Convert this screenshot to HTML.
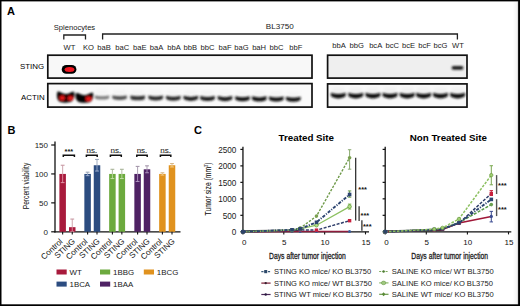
<!DOCTYPE html>
<html><head><meta charset="utf-8"><style>
html,body{margin:0;padding:0;background:#fff;width:520px;height:306px;overflow:hidden}
svg{display:block;font-family:"Liberation Sans", sans-serif}
</style></head><body>
<svg width="520" height="306" viewBox="0 0 520 306" font-family='"Liberation Sans", sans-serif'><rect x="0" y="0" width="520" height="306" fill="#000"/>
<rect x="1.5" y="1.4" width="516.6" height="302.9" fill="#fff"/>
<defs><linearGradient id="rg" x1="0" x2="1" y1="0" y2="0"><stop offset="0" stop-color="#000" stop-opacity="0"/><stop offset="0.7" stop-color="#000" stop-opacity="0.04"/><stop offset="1" stop-color="#000" stop-opacity="0.18"/></linearGradient></defs>
<rect x="512.6" y="1.4" width="5.5" height="302.9" fill="url(#rg)"/>
<text x="7.0" y="15.4" font-size="11" text-anchor="start" font-weight="bold" fill="#000" >A</text>
<text x="53.8" y="29.8" font-size="7.6" text-anchor="start" font-weight="normal" fill="#222" >Splenocytes</text>
<text x="265.8" y="29.2" font-size="8.1" text-anchor="start" font-weight="normal" fill="#222" >BL3750</text>
<path d="M63.8 39.6 V35 H85.5 V39.6" fill="none" stroke="#222" stroke-width="1.3"/>
<path d="M102.6 39.6 V34 H457.4 V39.6" fill="none" stroke="#222" stroke-width="1.3"/>
<text x="69.4" y="49.6" font-size="7.6" text-anchor="middle" font-weight="normal" fill="#222" >WT</text>
<text x="88.4" y="49.6" font-size="7.6" text-anchor="middle" font-weight="normal" fill="#222" >KO</text>
<text x="104.1" y="49.6" font-size="7.6" text-anchor="middle" font-weight="normal" fill="#222" >baB</text>
<text x="122.2" y="49.6" font-size="7.6" text-anchor="middle" font-weight="normal" fill="#222" >baC</text>
<text x="139.8" y="49.6" font-size="7.6" text-anchor="middle" font-weight="normal" fill="#222" >baE</text>
<text x="156.5" y="49.6" font-size="7.6" text-anchor="middle" font-weight="normal" fill="#222" >baA</text>
<text x="174" y="49.6" font-size="7.6" text-anchor="middle" font-weight="normal" fill="#222" >bbA</text>
<text x="190.3" y="49.6" font-size="7.6" text-anchor="middle" font-weight="normal" fill="#222" >bbB</text>
<text x="207.5" y="49.6" font-size="7.6" text-anchor="middle" font-weight="normal" fill="#222" >bbC</text>
<text x="225" y="49.6" font-size="7.6" text-anchor="middle" font-weight="normal" fill="#222" >baF</text>
<text x="241.5" y="49.6" font-size="7.6" text-anchor="middle" font-weight="normal" fill="#222" >baG</text>
<text x="259.1" y="49.6" font-size="7.6" text-anchor="middle" font-weight="normal" fill="#222" >baH</text>
<text x="276.5" y="49.6" font-size="7.6" text-anchor="middle" font-weight="normal" fill="#222" >bbC</text>
<text x="295.9" y="49.6" font-size="7.6" text-anchor="middle" font-weight="normal" fill="#222" >bbF</text>
<text x="339.1" y="48.1" font-size="7.6" text-anchor="middle" font-weight="normal" fill="#222" >bbA</text>
<text x="356.7" y="48.1" font-size="7.6" text-anchor="middle" font-weight="normal" fill="#222" >bbG</text>
<text x="375.7" y="48.1" font-size="7.6" text-anchor="middle" font-weight="normal" fill="#222" >bcA</text>
<text x="392.2" y="48.1" font-size="7.6" text-anchor="middle" font-weight="normal" fill="#222" >bcC</text>
<text x="408.5" y="48.1" font-size="7.6" text-anchor="middle" font-weight="normal" fill="#222" >bcE</text>
<text x="424.5" y="48.1" font-size="7.6" text-anchor="middle" font-weight="normal" fill="#222" >bcF</text>
<text x="440.5" y="48.1" font-size="7.6" text-anchor="middle" font-weight="normal" fill="#222" >bcG</text>
<text x="458" y="48.1" font-size="7.6" text-anchor="middle" font-weight="normal" fill="#222" >WT</text>
<text x="20" y="68.9" font-size="7.9" text-anchor="start" font-weight="normal" fill="#000" >STING</text>
<text x="21" y="100" font-size="7.9" text-anchor="start" font-weight="normal" fill="#000" >ACTIN</text>
<defs><filter id="bl" x="-50%" y="-80%" width="200%" height="260%"><feGaussianBlur stdDeviation="0.85"/></filter><filter id="bl2" x="-50%" y="-50%" width="200%" height="200%"><feGaussianBlur stdDeviation="0.55"/></filter><filter id="bl3" x="-50%" y="-100%" width="200%" height="300%"><feGaussianBlur stdDeviation="1.6"/></filter><filter id="nz" x="0" y="0" width="100%" height="100%"><feTurbulence type="fractalNoise" baseFrequency="0.9" numOctaves="1" seed="3"/><feColorMatrix values="0 0 0 0 0  0 0 0 0 0  0 0 0 0 0  0 0 0 -0.9 0.42"/><feComposite in2="SourceGraphic" operator="in"/></filter></defs>
<rect x="47.8" y="55.2" width="264.2" height="22.89999999999999" fill="#f8f8f8"/>
<rect x="47.8" y="83.6" width="264.2" height="23.5" fill="#fafafa"/>
<rect x="327.6" y="55.2" width="139.39999999999998" height="22.89999999999999" fill="#efefef"/>
<rect x="327.6" y="83.9" width="139.39999999999998" height="23.19999999999999" fill="#f8f8f8"/>
<g filter="url(#bl2)"><rect x="61.7" y="65.1" width="14.7" height="8.6" rx="4.6" ry="4.3" fill="#000"/><ellipse cx="69.5" cy="69.5" rx="4.9" ry="2.5" fill="#ee1620"/></g>
<rect filter="url(#bl)" x="451.6" y="65.9" width="11.8" height="3.9" rx="1.8" fill="#1a1a1a"/>
<g filter="url(#bl)"><path d="M57.6 91.6 C60 91.2 62 93.8 65.6 94 C69 94.2 71.5 91.2 74 91.8 C75 94 74.6 99.5 71.5 101.6 C68 103 62 103 59.5 101.6 C56.6 99.8 56.4 94 57.6 91.6Z" fill="#000"/><path d="M76 93 C78.5 92.4 80.6 95 84.3 95.2 C88 95.4 90.6 92.3 92.8 92.6 C93.8 95 93.2 100 90.4 101.8 C87 103.2 81 103.2 78.4 101.8 C75.6 100 75 95.5 76 93Z" fill="#000"/><ellipse cx="62.2" cy="98.0" rx="2.7" ry="2.2" fill="#e81818"/><ellipse cx="70.3" cy="98.3" rx="2.7" ry="2.2" fill="#e81818"/><ellipse cx="88.6" cy="98.7" rx="3.0" ry="2.3" fill="#e81818"/></g>
<rect filter="url(#bl3)" x="95.8" y="89.6" width="12.4" height="6" fill="#d8d8d8" opacity="0.15"/>
<path filter="url(#bl)" d="M94.80 95.60 Q102.00 97.00 109.20 95.60 Q110.10 97.18 108.60 98.76 Q102.00 100.44 95.40 98.76 Q93.90 97.18 94.80 95.60Z" fill="#7c7c7c"/>
<rect filter="url(#bl3)" x="113.39999999999999" y="89.74720334553058" width="12.4" height="6" fill="#d8d8d8" opacity="0.15"/>
<path filter="url(#bl)" d="M112.40 95.55 Q119.60 96.95 126.80 95.55 Q127.70 97.33 126.20 99.11 Q119.60 100.79 113.00 99.11 Q111.50 97.33 112.40 95.55Z" fill="#505050"/>
<rect filter="url(#bl3)" x="131.5" y="89.89858860428646" width="12.4" height="6" fill="#d8d8d8" opacity="0.15"/>
<path filter="url(#bl)" d="M130.50 95.55 Q137.70 96.95 144.90 95.55 Q145.80 97.48 144.30 99.41 Q137.70 101.09 131.10 99.41 Q129.60 97.48 130.50 95.55Z" fill="#303030"/>
<rect filter="url(#bl3)" x="149.5" y="90.04913748039728" width="12.4" height="6" fill="#d8d8d8" opacity="0.15"/>
<path filter="url(#bl)" d="M148.50 95.50 Q155.70 97.70 162.90 95.50 Q163.80 97.39 162.30 99.28 Q155.70 101.92 149.10 99.28 Q147.60 97.39 148.50 95.50Z" fill="#262626"/>
<rect filter="url(#bl3)" x="167.10000000000002" y="90.19634082592786" width="12.4" height="6" fill="#d8d8d8" opacity="0.15"/>
<path filter="url(#bl)" d="M166.10 95.65 Q173.30 97.85 180.50 95.65 Q181.40 97.54 179.90 99.43 Q173.30 102.07 166.70 99.43 Q165.20 97.54 166.10 95.65Z" fill="#262626"/>
<rect filter="url(#bl3)" x="184.60000000000002" y="90.34270778881337" width="12.4" height="6" fill="#d8d8d8" opacity="0.15"/>
<path filter="url(#bl)" d="M183.60 95.79 Q190.80 97.99 198.00 95.79 Q198.90 97.68 197.40 99.57 Q190.80 102.21 184.20 99.57 Q182.70 97.68 183.60 95.79Z" fill="#1e1e1e"/>
<rect filter="url(#bl3)" x="201.3" y="90.48238369053841" width="12.4" height="6" fill="#d8d8d8" opacity="0.15"/>
<path filter="url(#bl)" d="M200.30 95.93 Q207.50 98.13 214.70 95.93 Q215.60 97.82 214.10 99.71 Q207.50 102.35 200.90 99.71 Q199.40 97.82 200.30 95.93Z" fill="#1a1a1a"/>
<rect filter="url(#bl3)" x="218.8" y="90.62875065342394" width="12.4" height="6" fill="#d8d8d8" opacity="0.15"/>
<path filter="url(#bl)" d="M217.80 96.08 Q225.00 98.28 232.20 96.08 Q233.10 97.97 231.60 99.86 Q225.00 102.50 218.40 99.86 Q216.90 97.97 217.80 96.08Z" fill="#141414"/>
<rect filter="url(#bl3)" x="236.3" y="90.77511761630946" width="12.4" height="6" fill="#d8d8d8" opacity="0.15"/>
<path filter="url(#bl)" d="M235.30 96.23 Q242.50 98.43 249.70 96.23 Q250.60 98.12 249.10 100.01 Q242.50 102.65 235.90 100.01 Q234.40 98.12 235.30 96.23Z" fill="#111"/>
<rect filter="url(#bl3)" x="253.10000000000002" y="90.91562990067956" width="12.4" height="6" fill="#d8d8d8" opacity="0.15"/>
<path filter="url(#bl)" d="M252.10 96.37 Q259.30 98.57 266.50 96.37 Q267.40 98.26 265.90 100.15 Q259.30 102.79 252.70 100.15 Q251.20 98.26 252.10 96.37Z" fill="#111"/>
<rect filter="url(#bl3)" x="270.1" y="91.05781495033978" width="12.4" height="6" fill="#d8d8d8" opacity="0.15"/>
<path filter="url(#bl)" d="M269.10 96.51 Q276.30 98.71 283.50 96.51 Q284.40 98.40 282.90 100.29 Q276.30 102.93 269.70 100.29 Q268.20 98.40 269.10 96.51Z" fill="#0e0e0e"/>
<rect filter="url(#bl3)" x="287.1" y="91.19999999999999" width="12.4" height="6" fill="#d8d8d8" opacity="0.15"/>
<path filter="url(#bl)" d="M286.10 96.65 Q293.30 98.85 300.50 96.65 Q301.40 98.54 299.90 100.43 Q293.30 103.07 286.70 100.43 Q285.20 98.54 286.10 96.65Z" fill="#0c0c0c"/>
<rect filter="url(#bl3)" x="332.0" y="87.6" width="12.6" height="6" fill="#d8d8d8" opacity="0.22"/>
<path filter="url(#bl)" d="M331.00 92.70 Q338.30 95.50 345.60 92.70 Q346.50 94.76 345.00 96.82 Q338.30 100.18 331.60 96.82 Q330.10 94.76 331.00 92.70Z" fill="#111"/>
<rect filter="url(#bl3)" x="349.45" y="87.6" width="12.6" height="6" fill="#d8d8d8" opacity="0.22"/>
<path filter="url(#bl)" d="M348.45 92.70 Q355.75 95.50 363.05 92.70 Q363.95 94.76 362.45 96.82 Q355.75 100.18 349.05 96.82 Q347.55 94.76 348.45 92.70Z" fill="#111"/>
<rect filter="url(#bl3)" x="366.59999999999997" y="87.6" width="12.6" height="6" fill="#d8d8d8" opacity="0.22"/>
<path filter="url(#bl)" d="M365.60 92.70 Q372.90 95.50 380.20 92.70 Q381.10 94.76 379.60 96.82 Q372.90 100.18 366.20 96.82 Q364.70 94.76 365.60 92.70Z" fill="#111"/>
<rect filter="url(#bl3)" x="383.7" y="87.6" width="12.6" height="6" fill="#d8d8d8" opacity="0.22"/>
<path filter="url(#bl)" d="M382.70 92.70 Q390.00 95.50 397.30 92.70 Q398.20 94.76 396.70 96.82 Q390.00 100.18 383.30 96.82 Q381.80 94.76 382.70 92.70Z" fill="#111"/>
<rect filter="url(#bl3)" x="400.9" y="87.6" width="12.6" height="6" fill="#d8d8d8" opacity="0.22"/>
<path filter="url(#bl)" d="M399.90 92.70 Q407.20 95.50 414.50 92.70 Q415.40 94.76 413.90 96.82 Q407.20 100.18 400.50 96.82 Q399.00 94.76 399.90 92.70Z" fill="#111"/>
<rect filter="url(#bl3)" x="417.3" y="87.6" width="12.6" height="6" fill="#d8d8d8" opacity="0.22"/>
<path filter="url(#bl)" d="M416.30 92.70 Q423.60 95.50 430.90 92.70 Q431.80 94.76 430.30 96.82 Q423.60 100.18 416.90 96.82 Q415.40 94.76 416.30 92.70Z" fill="#111"/>
<rect filter="url(#bl3)" x="434.2" y="87.6" width="12.6" height="6" fill="#d8d8d8" opacity="0.22"/>
<path filter="url(#bl)" d="M433.20 92.70 Q440.50 95.50 447.80 92.70 Q448.70 94.76 447.20 96.82 Q440.50 100.18 433.80 96.82 Q432.30 94.76 433.20 92.70Z" fill="#111"/>
<rect filter="url(#bl3)" x="451.3" y="87.6" width="12.6" height="6" fill="#d8d8d8" opacity="0.22"/>
<path filter="url(#bl)" d="M450.30 92.70 Q457.60 95.50 464.90 92.70 Q465.80 94.76 464.30 96.82 Q457.60 100.18 450.90 96.82 Q449.40 94.76 450.30 92.70Z" fill="#111"/>
<rect x="47.8" y="55.2" width="264.2" height="22.89999999999999" fill="none" stroke="#111" stroke-width="1.7"/>
<rect x="47.8" y="83.6" width="264.2" height="23.5" fill="none" stroke="#111" stroke-width="1.7"/>
<rect x="327.6" y="55.2" width="139.39999999999998" height="22.89999999999999" fill="none" stroke="#111" stroke-width="1.7"/>
<rect x="327.6" y="83.9" width="139.39999999999998" height="23.19999999999999" fill="none" stroke="#111" stroke-width="1.7"/>
<text x="7.6" y="133.6" font-size="11" text-anchor="start" font-weight="bold" fill="#000" >B</text>
<line x1="55.0" y1="141.5" x2="55.0" y2="232.4" stroke="#111" stroke-width="1.3"/>
<line x1="54.4" y1="231.8" x2="180.5" y2="231.8" stroke="#111" stroke-width="1.3"/>
<line x1="51.2" y1="231.80" x2="55.0" y2="231.80" stroke="#111" stroke-width="1.2"/>
<text x="48.0" y="234.50" font-size="8.0" text-anchor="end" font-weight="normal" fill="#1a1a1a" >0</text>
<line x1="51.2" y1="202.87" x2="55.0" y2="202.87" stroke="#111" stroke-width="1.2"/>
<text x="48.0" y="205.57" font-size="8.0" text-anchor="end" font-weight="normal" fill="#1a1a1a" >50</text>
<line x1="51.2" y1="173.93" x2="55.0" y2="173.93" stroke="#111" stroke-width="1.2"/>
<text x="48.0" y="176.63" font-size="8.0" text-anchor="end" font-weight="normal" fill="#1a1a1a" >100</text>
<line x1="51.2" y1="145.00" x2="55.0" y2="145.00" stroke="#111" stroke-width="1.2"/>
<text x="48.0" y="147.70" font-size="8.0" text-anchor="end" font-weight="normal" fill="#1a1a1a" >150</text>
<text transform="translate(29.2 186) rotate(-90)" font-size="9.9" text-anchor="middle" fill="#111" textLength="46.5" lengthAdjust="spacingAndGlyphs">Percent viability</text>
<rect x="59.40" y="173.93" width="6.5" height="57.87" fill="#a81a3c"/>
<line x1="62.65" y1="165.25" x2="62.65" y2="173.93" stroke="#c89aa4" stroke-width="0.9"/>
<line x1="62.65" y1="173.93" x2="62.65" y2="182.61" stroke="#e8a0b0" stroke-width="0.8"/>
<line x1="60.75" y1="165.25" x2="64.55" y2="165.25" stroke="#c89aa4" stroke-width="1.1"/>
<line x1="60.75" y1="182.61" x2="64.55" y2="182.61" stroke="#e8a0b0" stroke-width="0.9"/>
<line x1="62.65" y1="231.8" x2="62.65" y2="234.6" stroke="#111" stroke-width="1.1"/>
<rect x="69.00" y="227.17" width="6.5" height="4.63" fill="#a81a3c"/>
<line x1="72.25" y1="219.07" x2="72.25" y2="227.17" stroke="#c89aa4" stroke-width="0.9"/>
<line x1="72.25" y1="227.17" x2="72.25" y2="231.80" stroke="#e8a0b0" stroke-width="0.8"/>
<line x1="70.35" y1="219.07" x2="74.15" y2="219.07" stroke="#c89aa4" stroke-width="1.1"/>
<line x1="70.35" y1="231.80" x2="74.15" y2="231.80" stroke="#e8a0b0" stroke-width="0.9"/>
<line x1="72.25" y1="231.8" x2="72.25" y2="234.6" stroke="#111" stroke-width="1.1"/>
<rect x="84.35" y="173.93" width="6.5" height="57.87" fill="#2c4c80"/>
<line x1="87.6" y1="172.20" x2="87.6" y2="173.93" stroke="#98a4b8" stroke-width="0.9"/>
<line x1="87.6" y1="173.93" x2="87.6" y2="175.67" stroke="#a8b8d8" stroke-width="0.8"/>
<line x1="85.70" y1="172.20" x2="89.50" y2="172.20" stroke="#98a4b8" stroke-width="1.1"/>
<line x1="85.70" y1="175.67" x2="89.50" y2="175.67" stroke="#a8b8d8" stroke-width="0.9"/>
<line x1="87.6" y1="231.8" x2="87.6" y2="234.6" stroke="#111" stroke-width="1.1"/>
<rect x="93.75" y="165.25" width="6.5" height="66.55" fill="#2c4c80"/>
<line x1="97.0" y1="159.47" x2="97.0" y2="165.25" stroke="#98a4b8" stroke-width="0.9"/>
<line x1="97.0" y1="165.25" x2="97.0" y2="171.04" stroke="#a8b8d8" stroke-width="0.8"/>
<line x1="95.10" y1="159.47" x2="98.90" y2="159.47" stroke="#98a4b8" stroke-width="1.1"/>
<line x1="95.10" y1="171.04" x2="98.90" y2="171.04" stroke="#a8b8d8" stroke-width="0.9"/>
<line x1="97.0" y1="231.8" x2="97.0" y2="234.6" stroke="#111" stroke-width="1.1"/>
<rect x="109.15" y="173.93" width="6.5" height="57.87" fill="#6caa3e"/>
<line x1="112.4" y1="169.30" x2="112.4" y2="173.93" stroke="#a8b498" stroke-width="0.9"/>
<line x1="112.4" y1="173.93" x2="112.4" y2="178.56" stroke="#c8e0b0" stroke-width="0.8"/>
<line x1="110.50" y1="169.30" x2="114.30" y2="169.30" stroke="#a8b498" stroke-width="1.1"/>
<line x1="110.50" y1="178.56" x2="114.30" y2="178.56" stroke="#c8e0b0" stroke-width="0.9"/>
<line x1="112.4" y1="231.8" x2="112.4" y2="234.6" stroke="#111" stroke-width="1.1"/>
<rect x="118.60" y="173.93" width="6.5" height="57.87" fill="#6caa3e"/>
<line x1="121.85" y1="169.30" x2="121.85" y2="173.93" stroke="#a8b498" stroke-width="0.9"/>
<line x1="121.85" y1="173.93" x2="121.85" y2="178.56" stroke="#c8e0b0" stroke-width="0.8"/>
<line x1="119.95" y1="169.30" x2="123.75" y2="169.30" stroke="#a8b498" stroke-width="1.1"/>
<line x1="119.95" y1="178.56" x2="123.75" y2="178.56" stroke="#c8e0b0" stroke-width="0.9"/>
<line x1="121.85" y1="231.8" x2="121.85" y2="234.6" stroke="#111" stroke-width="1.1"/>
<rect x="134.35" y="173.93" width="6.5" height="57.87" fill="#4f2264"/>
<line x1="137.6" y1="166.41" x2="137.6" y2="173.93" stroke="#a496aa" stroke-width="0.9"/>
<line x1="137.6" y1="173.93" x2="137.6" y2="181.46" stroke="#b8a0c8" stroke-width="0.8"/>
<line x1="135.70" y1="166.41" x2="139.50" y2="166.41" stroke="#a496aa" stroke-width="1.1"/>
<line x1="135.70" y1="181.46" x2="139.50" y2="181.46" stroke="#b8a0c8" stroke-width="0.9"/>
<line x1="137.6" y1="231.8" x2="137.6" y2="234.6" stroke="#111" stroke-width="1.1"/>
<rect x="143.75" y="169.30" width="6.5" height="62.50" fill="#4f2264"/>
<line x1="147.0" y1="165.83" x2="147.0" y2="169.30" stroke="#a496aa" stroke-width="0.9"/>
<line x1="147.0" y1="169.30" x2="147.0" y2="172.78" stroke="#b8a0c8" stroke-width="0.8"/>
<line x1="145.10" y1="165.83" x2="148.90" y2="165.83" stroke="#a496aa" stroke-width="1.1"/>
<line x1="145.10" y1="172.78" x2="148.90" y2="172.78" stroke="#b8a0c8" stroke-width="0.9"/>
<line x1="147.0" y1="231.8" x2="147.0" y2="234.6" stroke="#111" stroke-width="1.1"/>
<rect x="159.15" y="173.93" width="6.5" height="57.87" fill="#e0921e"/>
<line x1="162.4" y1="172.78" x2="162.4" y2="173.93" stroke="#d8b888" stroke-width="0.9"/>
<line x1="162.4" y1="173.93" x2="162.4" y2="175.09" stroke="#f5d090" stroke-width="0.8"/>
<line x1="160.50" y1="172.78" x2="164.30" y2="172.78" stroke="#d8b888" stroke-width="1.1"/>
<line x1="160.50" y1="175.09" x2="164.30" y2="175.09" stroke="#f5d090" stroke-width="0.9"/>
<line x1="162.4" y1="231.8" x2="162.4" y2="234.6" stroke="#111" stroke-width="1.1"/>
<rect x="168.75" y="165.25" width="6.5" height="66.55" fill="#e0921e"/>
<line x1="172.0" y1="163.52" x2="172.0" y2="165.25" stroke="#d8b888" stroke-width="0.9"/>
<line x1="172.0" y1="165.25" x2="172.0" y2="166.99" stroke="#f5d090" stroke-width="0.8"/>
<line x1="170.10" y1="163.52" x2="173.90" y2="163.52" stroke="#d8b888" stroke-width="1.1"/>
<line x1="170.10" y1="166.99" x2="173.90" y2="166.99" stroke="#f5d090" stroke-width="0.9"/>
<line x1="172.0" y1="231.8" x2="172.0" y2="234.6" stroke="#111" stroke-width="1.1"/>
<text transform="translate(63.15 242.2) rotate(-43)" font-size="8.1" text-anchor="end" fill="#111">Control</text>
<text transform="translate(75.55 242.0) rotate(-43)" font-size="8.1" text-anchor="end" fill="#111">STING</text>
<text transform="translate(88.10 242.2) rotate(-43)" font-size="8.1" text-anchor="end" fill="#111">Control</text>
<text transform="translate(100.30 242.0) rotate(-43)" font-size="8.1" text-anchor="end" fill="#111">STING</text>
<text transform="translate(112.90 242.2) rotate(-43)" font-size="8.1" text-anchor="end" fill="#111">Control</text>
<text transform="translate(125.15 242.0) rotate(-43)" font-size="8.1" text-anchor="end" fill="#111">STING</text>
<text transform="translate(138.10 242.2) rotate(-43)" font-size="8.1" text-anchor="end" fill="#111">Control</text>
<text transform="translate(150.30 242.0) rotate(-43)" font-size="8.1" text-anchor="end" fill="#111">STING</text>
<text transform="translate(162.90 242.2) rotate(-43)" font-size="8.1" text-anchor="end" fill="#111">Control</text>
<text transform="translate(175.30 242.0) rotate(-43)" font-size="8.1" text-anchor="end" fill="#111">STING</text>
<path d="M63.30 157.1 V155.2 H74.40 V157.1" fill="none" stroke="#111" stroke-width="1.5"/>
<text x="68.85" y="154.2" font-size="7.4" text-anchor="middle" font-weight="bold" fill="#111" >***</text>
<path d="M86.40 157.1 V155.2 H97.20 V157.1" fill="none" stroke="#111" stroke-width="1.5"/>
<text x="91.80000000000001" y="152.7" font-size="8" text-anchor="middle" font-weight="normal" fill="#111" >ns.</text>
<line x1="86.80" y1="152.6" x2="96.80" y2="152.6" stroke="#666" stroke-width="0.5"/>
<path d="M110.40 157.1 V155.2 H121.30 V157.1" fill="none" stroke="#111" stroke-width="1.5"/>
<text x="115.85" y="152.7" font-size="8" text-anchor="middle" font-weight="normal" fill="#111" >ns.</text>
<line x1="110.85" y1="152.6" x2="120.85" y2="152.6" stroke="#666" stroke-width="0.5"/>
<path d="M136.80 157.1 V155.2 H147.20 V157.1" fill="none" stroke="#111" stroke-width="1.5"/>
<text x="142.0" y="152.7" font-size="8" text-anchor="middle" font-weight="normal" fill="#111" >ns.</text>
<line x1="137.00" y1="152.6" x2="147.00" y2="152.6" stroke="#666" stroke-width="0.5"/>
<path d="M160.40 157.1 V155.2 H170.80 V157.1" fill="none" stroke="#111" stroke-width="1.5"/>
<text x="165.60000000000002" y="152.7" font-size="8" text-anchor="middle" font-weight="normal" fill="#111" >ns.</text>
<line x1="160.60" y1="152.6" x2="170.60" y2="152.6" stroke="#666" stroke-width="0.5"/>
<rect x="56.5" y="269.50" width="10.2" height="5" fill="#a81a3c"/>
<text x="69.5" y="274.60" font-size="7.9" text-anchor="start" font-weight="normal" fill="#1a1a1a" >WT</text>
<rect x="100" y="269.50" width="10.2" height="5" fill="#6caa3e"/>
<text x="113.0" y="274.60" font-size="7.9" text-anchor="start" font-weight="normal" fill="#1a1a1a" >1BBG</text>
<rect x="143.8" y="269.50" width="10.2" height="5" fill="#e0921e"/>
<text x="156.8" y="274.60" font-size="7.9" text-anchor="start" font-weight="normal" fill="#1a1a1a" >1BCG</text>
<rect x="56.5" y="281.60" width="10.2" height="5" fill="#2c4c80"/>
<text x="69.5" y="286.70" font-size="7.9" text-anchor="start" font-weight="normal" fill="#1a1a1a" >1BCA</text>
<rect x="100" y="281.60" width="10.2" height="5" fill="#4f2264"/>
<text x="113.0" y="286.70" font-size="7.9" text-anchor="start" font-weight="normal" fill="#1a1a1a" >1BAA</text>
<text x="194.0" y="133.8" font-size="11" text-anchor="start" font-weight="bold" fill="#000" >C</text>
<text x="306.3" y="140.6" font-size="9.8" text-anchor="middle" font-weight="bold" fill="#000" >Treated Site</text>
<text x="448.3" y="140.6" font-size="9.8" text-anchor="middle" font-weight="bold" fill="#000" >Non Treated Site</text>
<text transform="translate(211.2 189) rotate(-90)" font-size="9.6" text-anchor="middle" fill="#1a1a1a" stroke="#1a1a1a" stroke-width="0.1" textLength="53" lengthAdjust="spacingAndGlyphs">Tumor size (mm<tspan font-size="5.5" dy="-3">3</tspan><tspan dy="3">)</tspan></text>
<line x1="242.95" y1="146.8" x2="242.95" y2="232.4" stroke="#111" stroke-width="1.3"/>
<line x1="242.35" y1="231.8" x2="369" y2="231.8" stroke="#111" stroke-width="1.3"/>
<line x1="240.35" y1="231.80" x2="242.95" y2="231.80" stroke="#111" stroke-width="1.2"/>
<line x1="240.35" y1="215.32" x2="242.95" y2="215.32" stroke="#111" stroke-width="1.2"/>
<line x1="240.35" y1="198.84" x2="242.95" y2="198.84" stroke="#111" stroke-width="1.2"/>
<line x1="240.35" y1="182.36" x2="242.95" y2="182.36" stroke="#111" stroke-width="1.2"/>
<line x1="240.35" y1="165.88" x2="242.95" y2="165.88" stroke="#111" stroke-width="1.2"/>
<line x1="240.35" y1="149.40" x2="242.95" y2="149.40" stroke="#111" stroke-width="1.2"/>
<line x1="242.95" y1="231.8" x2="242.95" y2="234.4" stroke="#111" stroke-width="1.1"/>
<text x="244.15" y="245.3" font-size="8" text-anchor="middle" font-weight="normal" fill="#111" >0</text>
<line x1="283.80" y1="231.8" x2="283.80" y2="234.4" stroke="#111" stroke-width="1.1"/>
<text x="284.20" y="245.3" font-size="8" text-anchor="middle" font-weight="normal" fill="#111" >5</text>
<line x1="324.65" y1="231.8" x2="324.65" y2="234.4" stroke="#111" stroke-width="1.1"/>
<text x="325.05" y="245.3" font-size="8" text-anchor="middle" font-weight="normal" fill="#111" >10</text>
<line x1="365.50" y1="231.8" x2="365.50" y2="234.4" stroke="#111" stroke-width="1.1"/>
<text x="365.90" y="245.3" font-size="8" text-anchor="middle" font-weight="normal" fill="#111" >15</text>
<text x="307.45" y="258.7" font-size="9.6" text-anchor="middle" font-weight="normal" fill="#1a1a1a" textLength="76.7" lengthAdjust="spacingAndGlyphs" stroke="#1a1a1a" stroke-width="0.3">Days after tumor injection</text>
<line x1="385.2" y1="146.8" x2="385.2" y2="232.4" stroke="#111" stroke-width="1.3"/>
<line x1="384.59999999999997" y1="231.8" x2="511.3" y2="231.8" stroke="#111" stroke-width="1.3"/>
<line x1="382.60" y1="231.80" x2="385.2" y2="231.80" stroke="#111" stroke-width="1.2"/>
<line x1="382.60" y1="215.32" x2="385.2" y2="215.32" stroke="#111" stroke-width="1.2"/>
<line x1="382.60" y1="198.84" x2="385.2" y2="198.84" stroke="#111" stroke-width="1.2"/>
<line x1="382.60" y1="182.36" x2="385.2" y2="182.36" stroke="#111" stroke-width="1.2"/>
<line x1="382.60" y1="165.88" x2="385.2" y2="165.88" stroke="#111" stroke-width="1.2"/>
<line x1="382.60" y1="149.40" x2="385.2" y2="149.40" stroke="#111" stroke-width="1.2"/>
<line x1="385.20" y1="231.8" x2="385.20" y2="234.4" stroke="#111" stroke-width="1.1"/>
<text x="386.40" y="245.3" font-size="8" text-anchor="middle" font-weight="normal" fill="#111" >0</text>
<line x1="426.30" y1="231.8" x2="426.30" y2="234.4" stroke="#111" stroke-width="1.1"/>
<text x="426.70" y="245.3" font-size="8" text-anchor="middle" font-weight="normal" fill="#111" >5</text>
<line x1="467.40" y1="231.8" x2="467.40" y2="234.4" stroke="#111" stroke-width="1.1"/>
<text x="467.80" y="245.3" font-size="8" text-anchor="middle" font-weight="normal" fill="#111" >10</text>
<line x1="508.50" y1="231.8" x2="508.50" y2="234.4" stroke="#111" stroke-width="1.1"/>
<text x="508.90" y="245.3" font-size="8" text-anchor="middle" font-weight="normal" fill="#111" >15</text>
<text x="449.70" y="258.7" font-size="9.6" text-anchor="middle" font-weight="normal" fill="#1a1a1a" textLength="76.7" lengthAdjust="spacingAndGlyphs" stroke="#1a1a1a" stroke-width="0.3">Days after tumor injection</text>
<text x="236.4" y="235.30" font-size="8.2" text-anchor="end" font-weight="normal" fill="#1a1a1a" >0</text>
<text x="236.4" y="218.82" font-size="8.2" text-anchor="end" font-weight="normal" fill="#1a1a1a" >500</text>
<text x="236.4" y="202.34" font-size="8.2" text-anchor="end" font-weight="normal" fill="#1a1a1a" >1000</text>
<text x="236.4" y="185.86" font-size="8.2" text-anchor="end" font-weight="normal" fill="#1a1a1a" >1500</text>
<text x="236.4" y="169.38" font-size="8.2" text-anchor="end" font-weight="normal" fill="#1a1a1a" >2000</text>
<text x="236.4" y="152.90" font-size="8.2" text-anchor="end" font-weight="normal" fill="#1a1a1a" >2500</text>
<line x1="261.3" y1="271.6" x2="270.6" y2="271.6" stroke="#3a5878" stroke-width="1.2" stroke-dasharray="2.2 1.1"/>
<rect x="264.2" y="270.0" width="3" height="3.2" fill="#2e4a6a"/>
<text x="273.90000000000003" y="274.20" font-size="7.55" text-anchor="start" font-weight="normal" fill="#222" >STING KO mice/ KO BL3750</text>
<line x1="261.3" y1="283.1" x2="270.6" y2="283.1" stroke="#7a1c34" stroke-width="1.2"/>
<circle cx="265.7" cy="283.1" r="1.2" fill="#3a2030"/>
<text x="273.90000000000003" y="285.70" font-size="7.55" text-anchor="start" font-weight="normal" fill="#222" >STING KO mice/ WT BL3750</text>
<line x1="261.3" y1="294.5" x2="270.6" y2="294.5" stroke="#4a2658" stroke-width="1.2"/>
<circle cx="265.7" cy="294.5" r="1.2" fill="#2a1a40"/>
<text x="273.90000000000003" y="297.10" font-size="7.55" text-anchor="start" font-weight="normal" fill="#222" >STING WT mice/ KO BL3750</text>
<line x1="379.2" y1="271.5" x2="388.5" y2="271.5" stroke="#7aa858" stroke-width="1.2" stroke-dasharray="2 1.2"/>
<circle cx="383.59999999999997" cy="271.5" r="1.2" fill="#4a7a30"/>
<text x="391.8" y="274.10" font-size="7.55" text-anchor="start" font-weight="normal" fill="#222" >SALINE KO mice/ WT BL3750</text>
<line x1="379.2" y1="282.9" x2="388.5" y2="282.9" stroke="#8ab868" stroke-width="1.2"/>
<ellipse cx="383.59999999999997" cy="282.9" rx="2.2" ry="1.8" fill="#a0c880" stroke="#6a9a48" stroke-width="0.6"/>
<text x="391.8" y="285.50" font-size="7.55" text-anchor="start" font-weight="normal" fill="#222" >SALINE KO mice/ KO BL3750</text>
<line x1="379.2" y1="294.3" x2="388.5" y2="294.3" stroke="#6a9a48" stroke-width="1.2"/>
<path d="M383.59999999999997 292.3 L385.4 294.3 L383.59999999999997 296.3 L381.79999999999995 294.3Z" fill="#5a8a38"/>
<text x="391.8" y="296.90" font-size="7.55" text-anchor="start" font-weight="normal" fill="#222" >SALINE WT mice/ KO BL3750</text>
<polyline points="242.95,231.4 292,230.6 300,230.2" fill="none" stroke="#3a3a3a" stroke-width="2.2"/>
<polyline points="385.2,231.4 434.6,230.4 442.8,230" fill="none" stroke="#3a3a3a" stroke-width="2.2"/>
<polyline points="242.95,231.80 291.97,231.54 300.14,231.54 316.48,231.54 349.60,231.54" fill="none" stroke="#8e1c3c" stroke-width="1.6"/>
<circle cx="242.95" cy="231.80" r="1.5" fill="#3a5a98"/>
<circle cx="291.97" cy="231.54" r="1.5" fill="#3a5a98"/>
<circle cx="300.14" cy="231.54" r="1.5" fill="#3a5a98"/>
<circle cx="316.48" cy="231.54" r="1.5" fill="#3a5a98"/>
<circle cx="349.60" cy="231.54" r="1.5" fill="#3a5a98"/>
<polyline points="242.95,231.80 291.97,230.48 300.14,229.82 316.48,230.15 349.60,220.69" fill="none" stroke="#2e3d6a" stroke-width="1.5" stroke-dasharray="3 1.5"/>
<rect x="241.25" y="230.10" width="3.4" height="3.4" fill="#c8203c"/>
<rect x="290.27" y="228.78" width="3.4" height="3.4" fill="#c8203c"/>
<rect x="298.44" y="228.12" width="3.4" height="3.4" fill="#c8203c"/>
<rect x="314.78" y="228.45" width="3.4" height="3.4" fill="#c8203c"/>
<rect x="347.90" y="218.99" width="3.4" height="3.4" fill="#c8203c"/>
<polyline points="242.95,231.80 291.97,229.82 300.14,228.17 316.48,216.11 349.60,157.71" fill="none" stroke="#6f9a4a" stroke-width="1.4" stroke-dasharray="2.4 1.4"/>
<line x1="349.60" y1="149.73" x2="349.60" y2="169.18" stroke="#8aaa70" stroke-width="1"/>
<line x1="347.90" y1="149.73" x2="351.30" y2="149.73" stroke="#8aaa70" stroke-width="1"/>
<line x1="347.90" y1="169.18" x2="351.30" y2="169.18" stroke="#8aaa70" stroke-width="1"/>
<circle cx="242.95" cy="231.80" r="1.8" fill="#7aa050"/>
<circle cx="291.97" cy="229.82" r="1.8" fill="#7aa050"/>
<circle cx="300.14" cy="228.17" r="1.8" fill="#7aa050"/>
<circle cx="316.48" cy="216.11" r="1.8" fill="#7aa050"/>
<circle cx="349.60" cy="157.71" r="1.8" fill="#7aa050"/>
<polyline points="242.95,231.80 291.97,230.15 300.14,228.83 316.48,225.21 349.60,206.59" fill="none" stroke="#8cc060" stroke-width="1.3"/>
<line x1="349.60" y1="204.11" x2="349.60" y2="209.06" stroke="#7ab048" stroke-width="1"/>
<line x1="347.90" y1="204.11" x2="351.30" y2="204.11" stroke="#7ab048" stroke-width="1"/>
<line x1="347.90" y1="209.06" x2="351.30" y2="209.06" stroke="#7ab048" stroke-width="1"/>
<circle cx="242.95" cy="231.80" r="1.8" fill="#b8e090" stroke="#5a9a30" stroke-width="0.7"/>
<circle cx="291.97" cy="230.15" r="1.8" fill="#b8e090" stroke="#5a9a30" stroke-width="0.7"/>
<circle cx="300.14" cy="228.83" r="1.8" fill="#b8e090" stroke="#5a9a30" stroke-width="0.7"/>
<circle cx="316.48" cy="225.21" r="1.8" fill="#b8e090" stroke="#5a9a30" stroke-width="0.7"/>
<circle cx="349.60" cy="206.59" r="1.8" fill="#b8e090" stroke="#5a9a30" stroke-width="0.7"/>
<polyline points="242.95,231.80 291.97,229.82 300.14,228.83 316.48,222.31 349.60,194.49" fill="none" stroke="#2c4470" stroke-width="1.9" stroke-dasharray="3.2 1.3 1.1 1.3"/>
<line x1="349.60" y1="190.93" x2="349.60" y2="197.19" stroke="#6a9a50" stroke-width="1"/>
<line x1="347.90" y1="190.93" x2="351.30" y2="190.93" stroke="#6a9a50" stroke-width="1"/>
<line x1="347.90" y1="197.19" x2="351.30" y2="197.19" stroke="#6a9a50" stroke-width="1"/>
<rect x="241.15" y="230.00" width="3.6" height="3.6" fill="#2c4470"/>
<rect x="290.17" y="228.02" width="3.6" height="3.6" fill="#2c4470"/>
<rect x="298.34" y="227.03" width="3.6" height="3.6" fill="#2c4470"/>
<rect x="314.68" y="220.51" width="3.6" height="3.6" fill="#2c4470"/>
<rect x="347.80" y="192.69" width="3.6" height="3.6" fill="#2c4470"/>
<polyline points="384.90,231.80 434.28,229.82 442.51,229.49 458.97,222.90 491.30,216.41" fill="none" stroke="#a01838" stroke-width="1.6"/>
<line x1="491.30" y1="211.36" x2="491.30" y2="221.91" stroke="#3a4a90" stroke-width="1"/>
<line x1="489.60" y1="211.36" x2="493.00" y2="211.36" stroke="#3a4a90" stroke-width="1"/>
<line x1="489.60" y1="221.91" x2="493.00" y2="221.91" stroke="#3a4a90" stroke-width="1"/>
<circle cx="384.90" cy="231.80" r="1.6" fill="#3a4a90"/>
<circle cx="434.28" cy="229.82" r="1.6" fill="#3a4a90"/>
<circle cx="442.51" cy="229.49" r="1.6" fill="#3a4a90"/>
<circle cx="458.97" cy="222.90" r="1.6" fill="#3a4a90"/>
<circle cx="491.30" cy="216.41" r="1.6" fill="#3a4a90"/>
<polyline points="384.90,231.80 434.28,229.49 442.51,228.83 458.97,222.57 491.30,204.61" fill="none" stroke="#5a9a48" stroke-width="1.5" stroke-dasharray="3 1.4"/>
<circle cx="384.90" cy="231.80" r="1.8" fill="#6aa050"/>
<circle cx="434.28" cy="229.49" r="1.8" fill="#6aa050"/>
<circle cx="442.51" cy="228.83" r="1.8" fill="#6aa050"/>
<circle cx="458.97" cy="222.57" r="1.8" fill="#6aa050"/>
<circle cx="491.30" cy="204.61" r="1.8" fill="#6aa050"/>
<polyline points="384.90,231.80 434.28,229.82 442.51,229.16 458.97,223.23 491.30,193.50" fill="none" stroke="#2e3d6a" stroke-width="1.5" stroke-dasharray="3 1.5"/>
<line x1="491.30" y1="190.60" x2="491.30" y2="195.54" stroke="#c8203c" stroke-width="1"/>
<line x1="489.60" y1="190.60" x2="493.00" y2="190.60" stroke="#c8203c" stroke-width="1"/>
<line x1="489.60" y1="195.54" x2="493.00" y2="195.54" stroke="#c8203c" stroke-width="1"/>
<rect x="383.20" y="230.10" width="3.4" height="3.4" fill="#c8203c"/>
<rect x="432.58" y="228.12" width="3.4" height="3.4" fill="#c8203c"/>
<rect x="440.81" y="227.46" width="3.4" height="3.4" fill="#c8203c"/>
<rect x="457.27" y="221.53" width="3.4" height="3.4" fill="#c8203c"/>
<rect x="489.60" y="191.80" width="3.4" height="3.4" fill="#c8203c"/>
<polyline points="384.90,231.80 434.28,229.49 442.51,228.83 458.97,222.90 491.30,199.40" fill="none" stroke="#2c4470" stroke-width="1.9" stroke-dasharray="3.2 1.3 1.1 1.3"/>
<rect x="383.10" y="230.00" width="3.6" height="3.6" fill="#2c4470"/>
<rect x="432.48" y="227.69" width="3.6" height="3.6" fill="#2c4470"/>
<rect x="440.71" y="227.03" width="3.6" height="3.6" fill="#2c4470"/>
<rect x="457.17" y="221.10" width="3.6" height="3.6" fill="#2c4470"/>
<rect x="489.50" y="197.60" width="3.6" height="3.6" fill="#2c4470"/>
<polyline points="384.90,231.80 434.28,229.16 442.51,227.84 458.97,218.95 491.30,175.11" fill="none" stroke="#8cc060" stroke-width="1.5" stroke-dasharray="2.6 1.4"/>
<line x1="491.30" y1="165.72" x2="491.30" y2="184.80" stroke="#7aa850" stroke-width="1"/>
<line x1="489.60" y1="165.72" x2="493.00" y2="165.72" stroke="#7aa850" stroke-width="1"/>
<line x1="489.60" y1="184.80" x2="493.00" y2="184.80" stroke="#7aa850" stroke-width="1"/>
<circle cx="384.90" cy="231.80" r="1.7" fill="#a0d070" stroke="#6a9a40" stroke-width="0.7"/>
<circle cx="434.28" cy="229.16" r="1.7" fill="#a0d070" stroke="#6a9a40" stroke-width="0.7"/>
<circle cx="442.51" cy="227.84" r="1.7" fill="#a0d070" stroke="#6a9a40" stroke-width="0.7"/>
<circle cx="458.97" cy="218.95" r="1.7" fill="#a0d070" stroke="#6a9a40" stroke-width="0.7"/>
<circle cx="491.30" cy="175.11" r="1.7" fill="#a0d070" stroke="#6a9a40" stroke-width="0.7"/>
<circle cx="242.95" cy="231.7" r="2.1" fill="#2e4268"/>
<circle cx="385.2" cy="231.7" r="2.1" fill="#2e4268"/>
<line x1="355.7" y1="157.7" x2="355.7" y2="220.4" stroke="#222" stroke-width="1.2"/>
<line x1="359.1" y1="206.3" x2="359.1" y2="221" stroke="#222" stroke-width="1.2"/>
<line x1="361.9" y1="220.3" x2="361.9" y2="230.8" stroke="#222" stroke-width="1.2"/>
<text x="362.6" y="191.6" font-size="7.4" text-anchor="middle" font-weight="bold" fill="#111" >***</text>
<text x="364.9" y="218.4" font-size="7.4" text-anchor="middle" font-weight="bold" fill="#111" >***</text>
<text x="367.2" y="229.2" font-size="7.4" text-anchor="middle" font-weight="bold" fill="#111" >***</text>
<line x1="496.6" y1="175.1" x2="496.6" y2="194" stroke="#555" stroke-width="1.4"/>
<line x1="496.6" y1="199.2" x2="496.6" y2="216.1" stroke="#555" stroke-width="1.4"/>
<text x="502.4" y="188.0" font-size="7.4" text-anchor="middle" font-weight="bold" fill="#111" >***</text>
<text x="502.4" y="211.5" font-size="7.4" text-anchor="middle" font-weight="bold" fill="#111" >***</text></svg>
</body></html>
